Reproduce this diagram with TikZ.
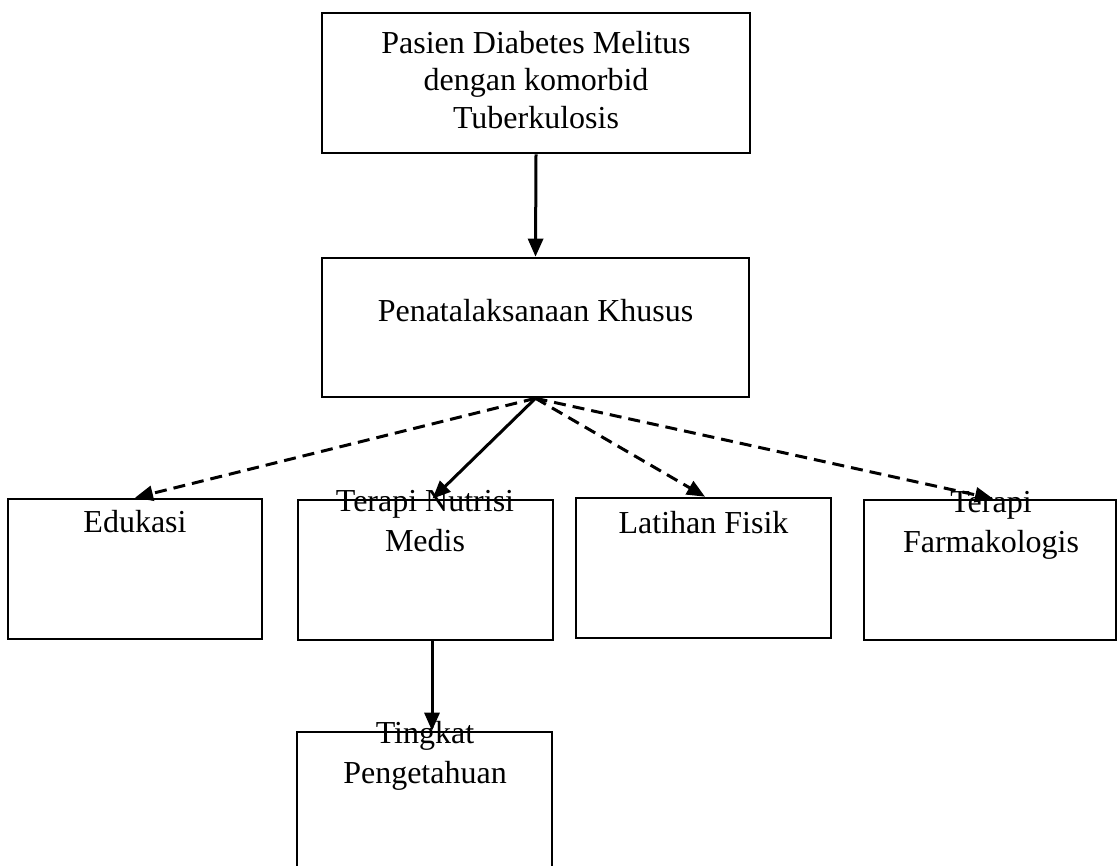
\documentclass[tikz,border=0pt]{standalone}
\usepackage{fontspec}
\setmainfont{Liberation Serif}
\usetikzlibrary{arrows.meta,calc}
\newcommand{\firststrut}{\rule{0pt}{25pt}}
\tikzset{
  boxstyle/.style={draw=black, line width=2.6pt, rectangle, inner sep=0pt},
  lbl/.style={anchor=north, inner sep=0pt, align=center, font=\fontsize{32}{40.5}\selectfont},
  arr/.style={line width=3pt, -{Triangle[length=18pt,width=15pt]}},
  dashline/.style={dash pattern=on 12pt off 7pt}
}
\begin{document}
\begin{tikzpicture}[x=1pt,y=-1pt]
\useasboundingbox (0,0) rectangle (1118,866);
% boxes
\node[boxstyle, minimum width=428pt, minimum height=140pt] (top) at (536,83) {};
\node[boxstyle, minimum width=427pt, minimum height=139pt] (pen) at (535.5,327.5) {};
\node[boxstyle, minimum width=254pt, minimum height=140pt] (edu) at (135,569) {};
\node[boxstyle, minimum width=255pt, minimum height=140pt] (tnm) at (425.5,570) {};
\node[boxstyle, minimum width=255pt, minimum height=140pt] (lat) at (703.5,568) {};
\node[boxstyle, minimum width=252pt, minimum height=140pt] (far) at (990,570) {};
\node[boxstyle, minimum width=255pt, minimum height=138pt] (tp) at (424.5,801) {};
% texts
\node[lbl, font=\fontsize{32}{37.5}\selectfont] (topt) at (536,28) {\firststrut Pasien Diabetes Melitus\\dengan komorbid\\Tuberkulosis};
\node[lbl] (pent) at (535.5,296) {\firststrut Penatalaksanaan Khusus};
\node[lbl] (edut) at (135,507) {\firststrut Edukasi};
\node[lbl] (tnmt) at (425,486) {\firststrut Terapi Nutrisi\\Medis};
\node[lbl] (latt) at (703.5,508) {\firststrut Latihan Fisik};
\node[lbl] (fart) at (991,487) {\firststrut Terapi\\Farmakologis};
\node[lbl, font=\fontsize{32}{40}\selectfont] (tpt) at (425,718) {\firststrut Tingkat\\Pengetahuan};
% connectors
\draw[arr] (top.south) -- (pen.north);
\draw[arr, dashline] (pen.south) -- (edu.north);
\draw[arr] (pen.south) -- ([xshift=7pt]tnm.north);
\draw[arr, dashline] (pen.south) -- ([xshift=1.5pt]lat.north);
\draw[arr, dashline] (pen.south) -- ([xshift=3pt]far.north);
\draw[arr] ([xshift=6.5pt]tnm.south) -- ([xshift=7.5pt]tp.north);
\end{tikzpicture}
\end{document}
